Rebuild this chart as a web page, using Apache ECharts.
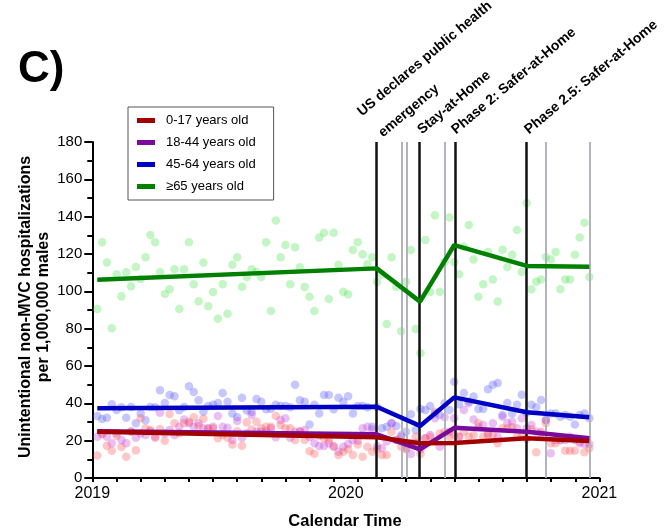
<!DOCTYPE html>
<html>
<head>
<meta charset="utf-8">
<script src="https://cdn.jsdelivr.net/npm/echarts@6/dist/echarts.min.js"></script>
<style>html,body{margin:0;padding:0;background:#fff}#c{width:666px;height:530px}</style>
</head>
<body>
<div id="c"></div>
<script>
// ---------- DATA ----------
const groups = ['0-17 years old', '18-44 years old', '45-64 years old', '\u226565 years old'];
const yTicks = [0, 20, 40, 60, 80, 100, 120, 140, 160, 180];
const xYearLabels = [2019, 2020, 2021];

// weekly observations (decimal year of first week and weekly step)
const firstWeek = 2019.0197;
const weekStep = 0.019025;

const pts0_17 = [12.1,23.4,17.3,14.6,22.5,16.6,11.4,25,14.8,32,
26.6,25.7,21.6,26.2,20,34.3,29.3,24,29.3,30.2,
32.5,27.9,31.8,26.4,26.6,21.3,23,21.6,18,25,
17.3,29.8,26,30.2,26.6,27.5,27.5,33.2,28.4,26.6,
26.6,20.4,24.8,20.4,14.3,13,22.7,21.3,20.4,17.1,
12.3,14,15.4,12.3,18,11.4,16.8,14.1,15.5,12.3,
12.3,24.8,20.4,16.8,15.4,18.6,22.1,12.9,21.3,22.1,
35.5,23.9,24.8,22.1,23,22.1,24.8,22.1,23,29.3,
22.1,23,23,18.6,26.6,26.6,27.2,22.1,22.1,21,
26.1,13.8,24.8,29.3,18.6,18.6,20.4,14.6,14.6,14.6,
19.5,13.8,15.9];

const pts18_44 = [22.1,23.9,22.1,18.6,24,20.4,18.6,24.8,21.6,23.9,
23,25,22.1,35,23.9,25.7,23,27.5,31.4,29.3,
27.5,29.3,26.6,26.6,27.5,33.2,27.5,26.9,20.4,30.5,
21.6,24,33.8,24.8,24.8,25,26.6,21.8,31.1,32,
21.6,24.8,25,25.7,22,18.6,17.1,17.1,18.6,16.8,
14.1,16.8,18.2,20.4,20,26.6,27.5,26,17,15.9,
19.5,29.3,20.4,23,15.9,12.9,18.9,15.4,21.3,23,
32,16.8,32.5,24.8,32,22.1,36.4,40,31.4,27.5,
28.4,23.9,29.3,22.1,32.8,29.3,30.2,26.6,32,26.6,
28.4,24.8,23.9,31.1,13.2,20.4,20.4,20.4,22.1,20.4,
18.6,18.2,18.2];

const pts45_64 = [33.2,31.6,32.3,39.5,36.4,37.9,32.3,38,29.3,34.6,
30.9,38,37.9,47,40.2,44.5,43.8,36.3,38,49.1,
46.1,41.6,35.5,38.6,39.3,40.2,45.5,40.9,34.6,32.5,
43,36.1,35.4,42.3,40.9,36.8,37.1,39.3,38.6,38.6,
37.9,50,41.6,40.9,28.6,39.3,34.6,44.5,44.5,36.8,
43,40.9,43.8,34.6,38.6,38.6,37.9,27.5,38,26.6,
27.5,29.3,27.9,22.1,24.8,34.1,25.7,37,36.4,38.6,
34.6,33.8,40,36.4,51.6,39.5,45.5,41,43.6,37,
37,47.5,50,50.9,33.8,40.2,34.6,39.3,44.6,35,
39.3,37.9,41.8,31.1,34.6,34.6,32.8,33.8,32.8,28.6,
33.8,34.6,32];

const pts65 = [90.5,126.3,115.5,80.2,109.1,97.3,110.2,102.7,113,106.6,
118.2,130.2,126.3,110.4,98.6,101.1,111.8,90.5,111.8,126.3,
103.8,94.7,115.5,92,99.6,85.3,103.8,88,114.3,118.2,
102.5,107.7,111.8,110.4,107.7,126.3,89.5,138,118.2,124.8,
103.8,123.6,112.9,102.3,97.1,89.5,128.9,131.4,95.9,131.4,
114.3,99.8,98.4,122.1,126.3,119.8,114.5,118.2,105.2,109,
82.5,118.2,102.5,78.6,105.2,122.1,79.8,66.8,127.5,99.6,
140.7,99.8,115.7,139.5,115.7,109.1,123.9,135.5,117,97.1,
103.8,121.1,106.4,94.5,122.3,113,119.6,132.9,110.4,147.3,
101.1,105.2,106.4,118.4,117,121.1,101.1,106.4,106.4,119.6,
128.9,136.8,107.7];

// fitted segmented trend lines: knot positions (decimal years) and values
const knotX = [2019.0197, 2020.1217, 2020.2925, 2020.4277, 2020.7133, 2020.9602];
const fit0_17 = [24.8, 21.8, 18.6, 18.8, 21.3, 19.8];
const fit18_44 = [25.0, 23.4, 15.4, 26.9, 24.8, 21.3];
const fit45_64 = [37.3, 38.2, 27.9, 43.2, 35.2, 32.5];
const fit65 = [106.2, 112.3, 94.5, 124.8, 113.6, 113.2];

// policy events (decimal years)
const majorEvents = [2020.1217, 2020.2925, 2020.4277, 2020.7133];
const minorEvents = [2020.2175, 2020.2360, 2020.3910, 2020.7882, 2020.9602];
const eventLabels = ['US declares public health', 'emergency', 'Stay-at-Home', 'Phase 2: Safer-at-Home', 'Phase 2.5: Safer-at-Home'];

// ---------- CHART ----------
const FONT = '"Liberation Sans", Arial, sans-serif';
const lineColors = ['#a30000', '#7a0a9c', '#0000c4', '#008000'];
const ptColors = ['rgba(255,80,80,0.4)', 'rgba(190,60,220,0.4)', 'rgba(80,80,255,0.4)', 'rgba(80,225,80,0.42)'];
const ptSets = [pts0_17, pts18_44, pts45_64, pts65];
const fitSets = [fit0_17, fit18_44, fit45_64, fit65];

const series = [];
[3, 2, 1, 0].forEach(i => {
  series.push({
    type: 'scatter', name: 'pts' + i, xAxisIndex: 0, yAxisIndex: 0,
    data: ptSets[i].map((v, k) => [firstWeek + k * weekStep, v]),
    symbolSize: 8.5, itemStyle: { color: ptColors[i] }, silent: true, z: 2
  });
});
series.push({
  type: 'line', name: 'events', data: [], xAxisIndex: 0, yAxisIndex: 0, z: 3,
  markLine: {
    silent: true, symbol: ['none', 'none'], label: { show: false },
    data: minorEvents.map(x => ({ xAxis: x, lineStyle: { color: '#b3b3bb', width: 2, type: 'solid' } }))
      .concat(majorEvents.map(x => ({ xAxis: x, lineStyle: { color: '#111', width: 2.5, type: 'solid' } })))
  }
});
[3, 2, 1, 0].forEach(i => {
  series.push({
    type: 'line', name: groups[i], xAxisIndex: 0, yAxisIndex: 0,
    data: knotX.map((x, j) => [x, fitSets[i][j]]),
    symbol: 'none', lineStyle: { width: 4.5, color: lineColors[i] }, itemStyle: { color: lineColors[i] },
    z: 5, silent: true
  });
});

const annot = [
  { t: eventLabels[0], x: 364, y: 119 },
  { t: eventLabels[1], x: 385, y: 140 },
  { t: eventLabels[2], x: 424, y: 137 },
  { t: eventLabels[3], x: 458, y: 137 },
  { t: eventLabels[4], x: 531, y: 137 }
];
const rot = 40 * Math.PI / 180;

const option = {
  animation: false,
  backgroundColor: '#fff',
  grid: { left: 92.3, right: 66.6, top: 142, bottom: 52, containLabel: false },
  legend: {
    data: groups, orient: 'vertical', left: 128, top: 107,
    borderColor: '#555', borderWidth: 1, padding: [6, 18, 6, 9],
    itemWidth: 18, itemHeight: 5, itemGap: 7, icon: 'rect',
    textStyle: { fontFamily: FONT, fontSize: 13, color: '#000', lineHeight: 15, padding: [0, 0, 0, 6] },
    backgroundColor: '#fff'
  },
  xAxis: [{
    type: 'value', min: 2019, max: 2021, interval: 1, position: 'bottom',
    axisLine: { show: true, lineStyle: { color: '#000', width: 2 } },
    axisTick: { show: false }, splitLine: { show: false },
    axisLabel: { fontFamily: FONT, fontSize: 16, color: '#000', margin: 8, formatter: v => String(v) }
  }, {
    type: 'value', min: 0, max: 21, interval: 1, position: 'bottom',
    axisLine: { show: false }, splitLine: { show: false }, axisLabel: { show: false },
    axisTick: { show: true, length: 4, lineStyle: { color: '#000', width: 2 } }
  }],
  yAxis: [{
    type: 'value', min: yTicks[0], max: yTicks[yTicks.length - 1], interval: 20,
    axisLine: { show: true, lineStyle: { color: '#000', width: 2 } },
    axisTick: { show: true, length: 8, lineStyle: { color: '#000', width: 2 } },
    minorTick: { show: true, splitNumber: 2, length: 5, lineStyle: { color: '#000', width: 2 } },
    splitLine: { show: false },
    axisLabel: { fontFamily: FONT, fontSize: 15, color: '#000', margin: 10 }
  }],
  graphic: [
    { type: 'text', left: 18, top: 48, style: { text: 'C)', font: 'bold 44px ' + FONT, fill: '#000' } },
    { type: 'text', x: 26, y: 307, rotation: Math.PI / 2,
      style: { text: 'Unintentional non-MVC hospitalizations', font: 'bold 16px ' + FONT, fill: '#000', textAlign: 'center', textVerticalAlign: 'middle' } },
    { type: 'text', x: 44, y: 307, rotation: Math.PI / 2,
      style: { text: 'per 1,000,000 males', font: 'bold 16px ' + FONT, fill: '#000', textAlign: 'center', textVerticalAlign: 'middle' } },
    { type: 'text', x: 345, y: 521,
      style: { text: 'Calendar Time', font: 'bold 16.5px ' + FONT, fill: '#000', textAlign: 'center', textVerticalAlign: 'middle' } }
  ].concat(annot.map(a => ({
    type: 'text', x: a.x, y: a.y, rotation: rot,
    style: { text: a.t, font: 'bold 14px ' + FONT, fill: '#000', textAlign: 'left', textVerticalAlign: 'bottom' }
  }))),
  series: series
};

const chart = echarts.init(document.getElementById('c'), null, { renderer: 'canvas' });
chart.setOption(option);
</script>
</body>
</html>
